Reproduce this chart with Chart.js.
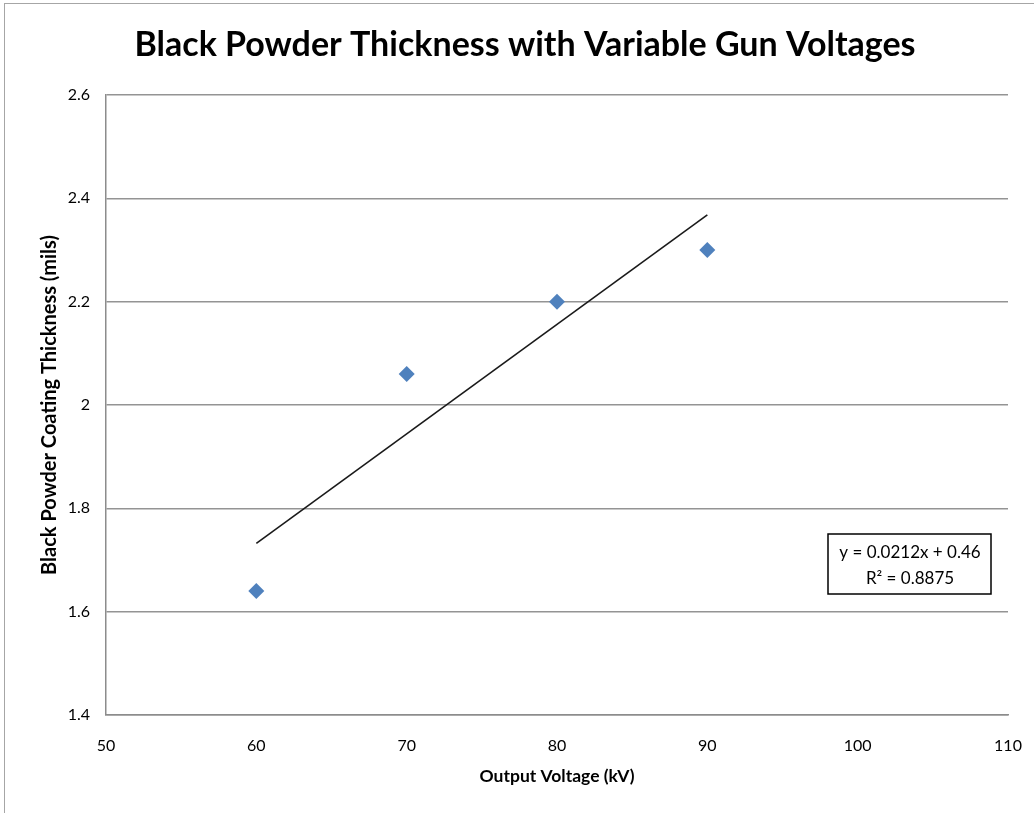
<!DOCTYPE html>
<html lang="en">
  <head>
    <title>Black Powder Thickness</title>
    <script src="https://cdn.jsdelivr.net/npm/chart.js"></script>
    <style>
      body { margin: 0; background: #fff; }
    </style>
  </head>
  <body>
    <canvas id="chart" width="1034" height="813"></canvas>
    <script>
      // data
      const voltage = [60, 70, 80, 90];
      const thickness = [1.64, 2.06, 2.2, 2.3];
      const trendX = [60, 90];
      const slope = 0.0212;
      const intercept = 0.46;
      const chartTitle = "Black Powder Thickness with Variable Gun Voltages";
      const equationLines = ["y = 0.0212x + 0.46", "R\u00B2 = 0.8875"];
      const eqAt = { x: 103.4, y: 1.692 };

      const FONT = "Lato, 'Open Sans', sans-serif";

      // thin grey frame around the whole chart object + the title
      const framePlugin = {
        id: "frame",
        beforeDraw(chart) {
          const c = chart.ctx;
          c.save();
          c.fillStyle = "#fff";
          c.fillRect(0, 0, chart.width, chart.height);
          c.strokeStyle = "#a6a6a6";
          c.lineWidth = 1;
          c.strokeRect(4.5, 3.5, chart.width + 20, chart.height + 20);
          c.font = "bold 34px " + FONT;
          c.fillStyle = "#000";
          c.textAlign = "center";
          c.textBaseline = "middle";
          c.fillText(chartTitle, chart.width / 2 + 8, 45);
          c.restore();
        },
      };

      // trendline equation box
      const eqPlugin = {
        id: "eqbox",
        afterDatasetsDraw(chart) {
          const c = chart.ctx;
          const cx = Math.round(chart.scales.x.getPixelForValue(eqAt.x));
          const cy = Math.round(chart.scales.y.getPixelForValue(eqAt.y));
          c.save();
          c.font = "17px " + FONT;
          c.textAlign = "center";
          c.textBaseline = "middle";
          c.fillStyle = "#fff";
          c.fillRect(cx - 81, cy - 30, 163, 60);
          c.strokeStyle = "#000";
          c.lineWidth = 1.5;
          c.strokeRect(cx - 81, cy - 30, 163, 60);
          c.fillStyle = "#000";
          c.fillText(equationLines[0], cx + 1, cy - 11);
          c.fillText(equationLines[1], cx + 1, cy + 15);
          c.restore();
        },
      };

      const points = voltage.map((v, i) => ({ x: v, y: thickness[i] }));
      const trend = trendX.map((v) => ({ x: v, y: slope * v + intercept }));

      new Chart(document.getElementById("chart"), {
        type: "scatter",
        data: {
          datasets: [
            {
              label: "Thickness",
              data: points,
              pointStyle: "rectRot",
              pointRadius: 8,
              pointBackgroundColor: "#4F81BD",
              pointBorderWidth: 0,
              order: 1,
            },
            {
              label: "Linear",
              data: trend,
              showLine: true,
              borderColor: "#1a1a1a",
              borderWidth: 1.6,
              pointRadius: 0,
              order: 0,
            },
          ],
        },
        options: {
          responsive: false,
          animation: false,
          layout: { padding: { left: 0, right: 26, top: 95, bottom: 0 } },
          plugins: {
            legend: { display: false },
            tooltip: { enabled: false },
            title: { display: false },
          },
          scales: {
            x: {
              type: "linear",
              min: 50,
              max: 110,
              ticks: {
                stepSize: 10,
                color: "#000",
                padding: 21,
                font: { family: FONT, size: 16 },
              },
              grid: { display: false, drawTicks: false },
              border: { color: "#8c8c8c", width: 1.5 },
              title: {
                display: true,
                text: "Output Voltage (kV)",
                color: "#000",
                font: { family: FONT, size: 17.5, weight: "bold" },
                padding: { top: 26, bottom: 26 },
              },
              afterFit(scale) {
                scale.height = 98;
                scale.paddingLeft = 0;
                scale.paddingRight = 0;
              },
            },
            y: {
              min: 1.4,
              max: 2.6,
              ticks: {
                stepSize: 0.2,
                color: "#000",
                padding: 16,
                font: { family: FONT, size: 16 },
                callback: (v) => +v.toFixed(1),
              },
              grid: { color: "#949494", lineWidth: 1.5, drawTicks: false },
              border: { color: "#8c8c8c", width: 1.5 },
              title: {
                display: true,
                text: "Black Powder Coating Thickness (mils)",
                color: "#000",
                font: { family: FONT, size: 20, weight: "bold" },
                padding: { top: 38, bottom: 38 },
              },
              afterFit(scale) {
                scale.width = 106;
              },
            },
          },
        },
        plugins: [framePlugin, eqPlugin],
      });
    </script>
  </body>
</html>
